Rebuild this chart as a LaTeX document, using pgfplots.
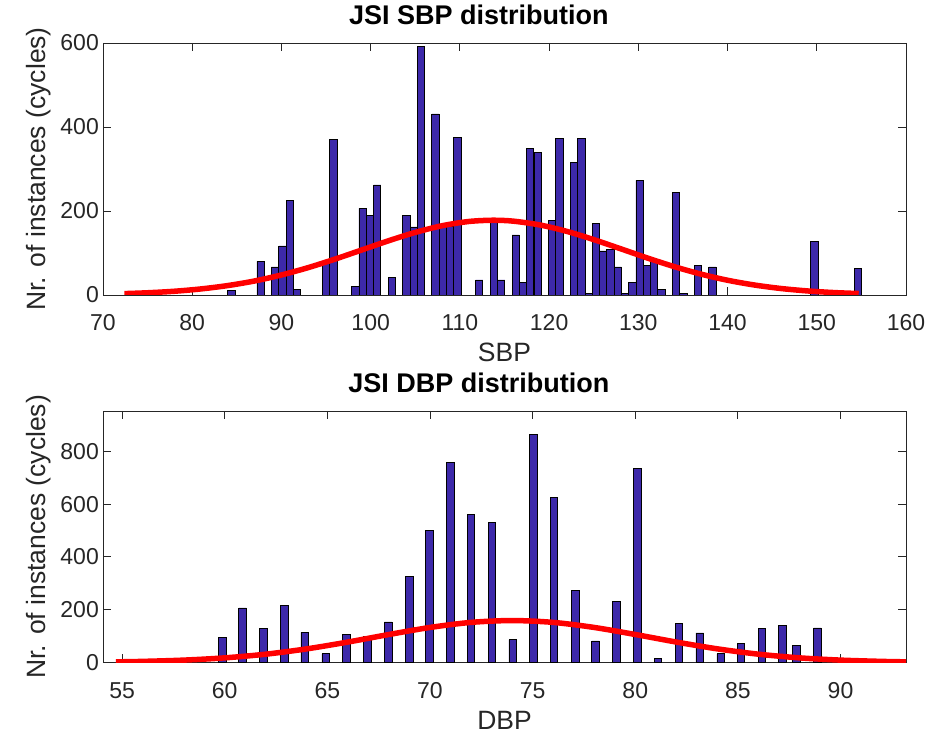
\documentclass[border=0pt]{standalone}
\usepackage{fontspec}
\setmainfont{Liberation Sans}
\usepackage{pgfplots}
\pgfplotsset{compat=1.18}
\definecolor{barblue}{RGB}{61,41,170}
\definecolor{axgray}{RGB}{38,38,38}
\pgfplotsset{
  myaxis/.style={
    scale only axis, width=803pt, height=252pt,
    axis line style={axgray, line width=0.9pt},
    tick style={axgray, line width=0.9pt},
    major tick length=8pt,
    tick align=inside,
    ticklabel style={font=\fontsize{23}{27}\selectfont, text=axgray},
    /pgf/number format/assume math mode=true,
    /pgf/number format/1000 sep={},
    xticklabel style={anchor=base, yshift=-36pt, inner sep=0pt},
    yticklabel style={anchor=east, inner sep=0pt, xshift=-4pt},
    label style={font=\fontsize{26.5}{30}\selectfont, text=axgray},
    title style={font=\bfseries\fontsize{27}{31}\selectfont, text=black, at={(0.468,1)}, anchor=base, yshift=12.5pt},
    xlabel style={at={(0.5,0)}, anchor=base, yshift=-67pt},
    ylabel style={at={(-0.071,0.5)}, anchor=base},
  }
}
\begin{document}
\begin{tikzpicture}
\path[use as bounding box] (0pt,0pt) rectangle (928pt,738pt);
% ---------------- SBP ----------------
\begin{axis}[myaxis,
  at={(103pt,443pt)}, anchor=south west,
  xmin=70, xmax=160, ymin=0, ymax=600,
  xtick={70,80,...,160}, ytick={0,200,400,600},
  title={JSI SBP distribution},
  xlabel={SBP}, ylabel={Nr. of instances (cycles)}]
\addplot[ybar, bar width=0.8169, fill=barblue, draw=black, line width=0.7pt] coordinates {
(84.39,11) (87.66,80) (89.29,67) (90.11,117) (90.93,225) (91.74,14)
(95.01,75) (95.83,371) (98.28,21) (99.09,206) (99.91,189) (100.73,262)
(102.36,42) (104.00,189) (104.81,162) (105.63,592) (107.26,431) (108.08,162)
(108.90,164) (109.71,376) (112.16,36) (113.80,173) (114.62,36) (116.25,143)
(117.07,30) (117.88,348) (118.70,339) (120.33,177) (121.15,373) (122.78,316)
(123.60,373) (124.42,3) (125.24,171) (126.05,105) (126.87,108) (127.69,67)
(128.50,3) (129.32,30) (130.14,273) (130.95,71) (131.77,81) (132.59,14)
(134.22,244) (135.04,3) (136.67,70) (138.31,67) (149.74,127) (154.64,64)
};
\addplot[red, line width=5.5pt, smooth] coordinates {
(72.4,3.3) (75,5.3) (78,8.9) (81,14.5) (84,22.5) (87,33.4) (90,47.7) (93,65.2)
(96,85.4) (99,107.2) (102,129.1) (105,149.0) (108,164.9) (111,175.0) (113.7,178)
(116,175.8) (119,166.6) (122,151.4) (125,131.9) (128,110.2) (131,88.2) (134,67.7)
(137,49.8) (140,35.1) (143,23.8) (146,15.4) (149,9.6) (152,5.7) (154.7,3.5)
};
\end{axis}
% ---------------- DBP ----------------
\begin{axis}[myaxis, height=251.5pt,
  at={(103pt,75.5pt)}, anchor=south west,
  xmin=54.07, xmax=93.19, ymin=0, ymax=953,
  xtick={55,60,...,90}, ytick={0,200,400,600,800},
  title={JSI DBP distribution},
  xlabel={DBP}, ylabel={Nr. of instances (cycles)}]
\addplot[ybar, bar width=0.37, fill=barblue, draw=black, line width=0.7pt] coordinates {
(59.87,96) (60.87,207) (61.88,128) (62.90,217) (63.90,114) (64.92,33)
(65.93,107) (66.95,100) (67.96,154) (68.98,327) (69.98,500) (70.99,758)
(72.00,561) (73.02,530) (74.03,86) (75.03,864) (76.04,625) (77.07,272)
(78.07,82) (79.08,231) (80.10,734) (81.11,16) (82.13,147) (83.14,112)
(84.16,33) (85.15,73) (86.17,128) (87.18,139) (87.86,66) (88.87,131)
};
\addplot[red, line width=5.5pt, smooth] coordinates {
(54.7,2.4) (56,4.2) (58,9.0) (60,17.6) (62,31.5) (64,51.7) (66,77.5) (68,106.1)
(70,132.8) (72,152.0) (74,159) (76,152.0) (78,132.8) (80,106.1) (82,77.5)
(84,51.7) (86,31.5) (88,17.6) (90,9.0) (92,4.2) (93.19,2.5)
};
\end{axis}
\end{tikzpicture}
\end{document}
